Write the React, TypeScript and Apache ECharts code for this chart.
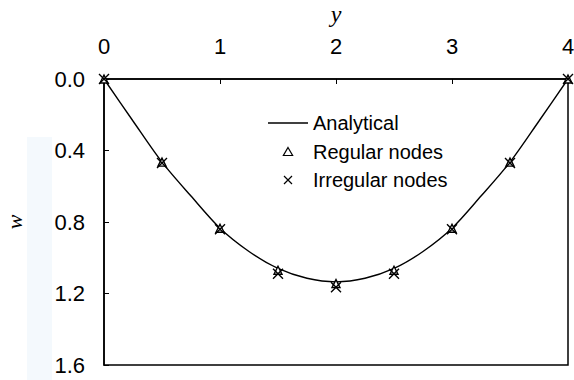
import React, { useEffect, useRef } from "react";
import * as echarts from "echarts";

// Position along the plate (y) and deflection (w)
const analyticalY = [0, 0.25, 0.5, 0.75, 1, 1.25, 1.5, 1.75, 2, 2.25, 2.5, 2.75, 3, 3.25, 3.5, 3.75, 4];
const analyticalW = [0, 0.235, 0.465, 0.655, 0.835, 0.965, 1.06, 1.115, 1.135, 1.115, 1.06, 0.965, 0.835, 0.655, 0.465, 0.235, 0];

const nodeY = [0, 0.5, 1, 1.5, 2, 2.5, 3, 3.5, 4];
const regularW = [0, 0.465, 0.835, 1.07, 1.145, 1.07, 0.835, 0.465, 0];
const irregularW = [0, 0.47, 0.84, 1.09, 1.165, 1.09, 0.84, 0.47, 0];

const xTicks = [0, 1, 2, 3, 4];
const wTicks = [0, 0.4, 0.8, 1.2, 1.6];

const SANS = "'Liberation Sans', Arial, sans-serif";
const SERIF = "'Liberation Serif', 'Times New Roman', serif";

const TRIANGLE = "path://M5,0L10,8.66L0,8.66Z";
const CROSS = "path://M0,0L10,10M10,0L0,10";
const LINE_ICON = "path://M0,0H40V1.3H0Z";

export default function App() {
  const ref = useRef<HTMLDivElement>(null);

  useEffect(() => {
    if (!ref.current) return;
    const chart = echarts.init(ref.current, undefined, { renderer: "svg" });

    const pair = (xs: number[], ys: number[]) => xs.map((x, i) => [x, ys[i]]);

    chart.setOption({
      animation: false,
      backgroundColor: "#ffffff",
      graphic: [
        {
          type: "rect",
          z: -10,
          shape: { x: 27, y: 137, width: 25, height: 243 },
          style: { fill: "#f4f9fd" },
          silent: true,
        },
      ],
      grid: {
        left: 104,
        top: 79,
        right: 6,
        bottom: 15,
        outerBoundsMode: "none",
        containLabel: false,
        show: true,
        borderColor: "#000",
        borderWidth: 1.5,
        backgroundColor: "transparent",
      },
      legend: {
        orient: "vertical",
        left: 263,
        top: 108,
        itemWidth: 40,
        itemHeight: 8,
        itemGap: 8.5,
        symbolKeepAspect: true,
        itemStyle: { borderWidth: 1.2 },
        textStyle: { fontFamily: SANS, fontSize: 20, color: "#000" },
        data: [
          { name: "Analytical", icon: LINE_ICON, itemStyle: { color: "#000", borderWidth: 0 } },
          { name: "Regular nodes", icon: TRIANGLE },
          { name: "Irregular nodes", icon: CROSS },
        ],
      },
      xAxis: {
        type: "value",
        position: "top",
        min: xTicks[0],
        max: xTicks[xTicks.length - 1],
        interval: 1,
        name: "y",
        nameLocation: "middle",
        nameGap: 53,
        nameTextStyle: { fontFamily: SERIF, fontStyle: "italic", fontSize: 24, color: "#000" },
        axisLine: { show: true, lineStyle: { color: "#000", width: 1.5 } },
        axisTick: { show: true, inside: true, length: 5, lineStyle: { color: "#000", width: 1 } },
        axisLabel: { margin: 22, fontFamily: SANS, fontSize: 22, color: "#000" },
        splitLine: { show: false },
      },
      yAxis: {
        type: "value",
        inverse: true,
        min: wTicks[0],
        max: wTicks[wTicks.length - 1],
        interval: 0.4,
        name: "w",
        nameLocation: "middle",
        nameGap: 79,
        nameTextStyle: { fontFamily: SERIF, fontStyle: "italic", fontSize: 22, color: "#000" },
        axisLine: { show: true, lineStyle: { color: "#000", width: 1.5 } },
        axisTick: { show: true, inside: true, length: 5, lineStyle: { color: "#000", width: 1 } },
        axisLabel: {
          margin: 19,
          fontFamily: SANS,
          fontSize: 22,
          color: "#000",
          formatter: (v: number) => v.toFixed(1),
        },
        splitLine: { show: false },
      },
      series: [
        {
          name: "Analytical",
          type: "line",
          data: pair(analyticalY, analyticalW),
          smooth: 0.3,
          symbol: "none",
          itemStyle: { color: "#000" },
          lineStyle: { color: "#000", width: 1.4 },
          z: 1,
        },
        {
          name: "Regular nodes",
          type: "scatter",
          data: pair(nodeY, regularW),
          symbol: "triangle",
          symbolSize: 8,
          itemStyle: { color: "#fff", borderColor: "#000", borderWidth: 1.4, opacity: 1 },
          z: 3,
        },
        {
          name: "Irregular nodes",
          type: "scatter",
          data: pair(nodeY, irregularW),
          symbol: CROSS,
          symbolSize: 10,
          itemStyle: { color: "none", borderColor: "#000", borderWidth: 1.4, opacity: 1 },
          z: 4,
        },
      ],
    });

    return () => chart.dispose();
  }, []);

  return (
    <div
      ref={ref}
      style={{ position: "absolute", left: 0, top: 0, width: 574, height: 380 }}
    />
  );
}
